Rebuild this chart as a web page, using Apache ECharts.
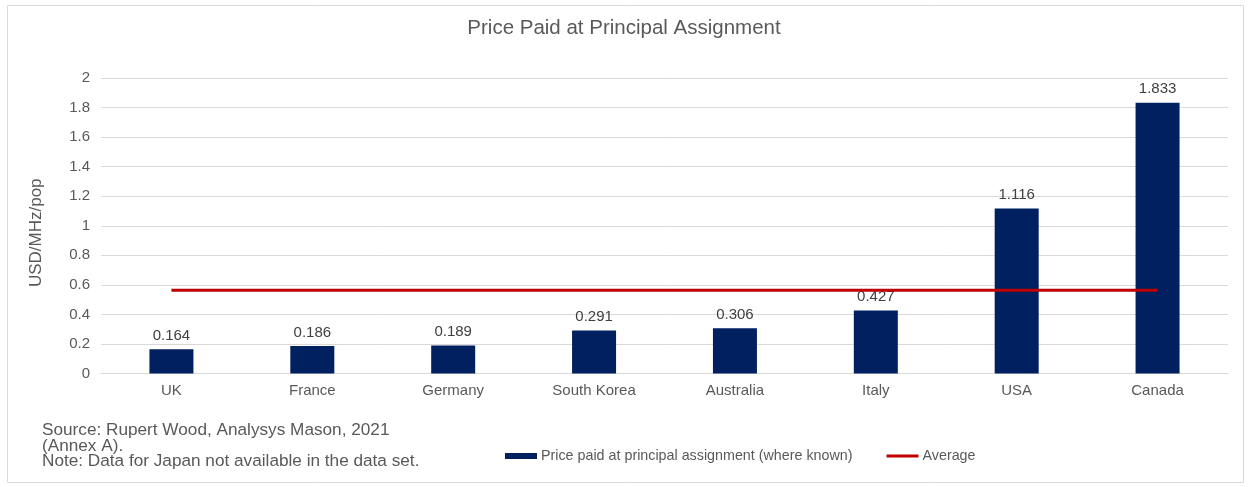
<!DOCTYPE html>
<html>
<head>
<meta charset="utf-8">
<script src="https://cdn.jsdelivr.net/npm/echarts@6/dist/echarts.min.js"></script>
<style>
  html, body { margin: 0; padding: 0; background: #fff; }
  #chart { width: 1248px; height: 487px; }
</style>
</head>
<body>
<div id="chart"></div>
<script>
// chart data
const countries = ['UK', 'France', 'Germany', 'South Korea', 'Australia', 'Italy', 'USA', 'Canada'];
const pricePaid = [0.164, 0.186, 0.189, 0.291, 0.306, 0.427, 1.116, 1.833];
const averageValues = [0.564, 0.564, 0.564, 0.564, 0.564, 0.564, 0.564, 0.564];
const yTicks = [0, 0.2, 0.4, 0.6, 0.8, 1, 1.2, 1.4, 1.6, 1.8, 2];

const font = '"Liberation Sans", Arial, Helvetica, sans-serif';
const grey = '#595959';

const chart = echarts.init(document.getElementById('chart'));
chart.setOption({
    animation: false,
    textStyle: { fontFamily: font },
    title: {
        text: 'Price Paid at Principal Assignment',
        left: 'center',
        top: 18,
        padding: 0,
        textStyle: { fontSize: 20.5, fontWeight: 'normal', color: grey, fontFamily: font }
    },
    grid: { left: 101, right: 20, top: 78, bottom: 113.5 },
    legend: {
        left: 505,
        top: 449,
        padding: 0,
        itemWidth: 32,
        itemHeight: 6,
        itemGap: 34,
        textStyle: { fontSize: 14.3, color: grey, fontFamily: font, padding: [0, 0, 0, -1] },
        data: [
            { name: 'Price paid at principal assignment (where known)', icon: 'rect' },
            { name: 'Average', icon: 'path://M0,0 L32,0 L32,3 L0,3 Z' }
        ]
    },
    xAxis: {
        type: 'category',
        data: countries,
        axisLine: { lineStyle: { color: '#d9d9d9' } },
        axisTick: { show: false },
        axisLabel: { fontSize: 15, color: grey, margin: 10, fontFamily: font }
    },
    yAxis: {
        type: 'value',
        min: yTicks[0],
        max: yTicks[yTicks.length - 1],
        interval: 0.2,
        name: 'USD/MHz/pop',
        nameLocation: 'middle',
        nameRotate: 90,
        nameGap: 56,
        nameTextStyle: { fontSize: 17, color: grey, fontFamily: font, padding: [0, 14, 0, 0] },
        splitLine: { lineStyle: { color: '#d9d9d9' } },
        axisLabel: { fontSize: 15, color: grey, margin: 11, fontFamily: font }
    },
    series: [
        {
            name: 'Price paid at principal assignment (where known)',
            type: 'bar',
            data: pricePaid,
            barWidth: 44,
            itemStyle: { color: '#002060' },
            label: {
                show: true,
                position: 'top',
                distance: 6,
                fontSize: 15,
                color: '#404040',
                fontFamily: font
            }
        },
        {
            name: 'Average',
            type: 'line',
            data: averageValues,
            symbol: 'none',
            lineStyle: { color: '#C00000', width: 3 },
            itemStyle: { color: '#C00000' }
        }
    ],
    graphic: [
        {
            type: 'rect',
            shape: { x: 7.5, y: 5.5, width: 1236, height: 477 },
            style: { fill: 'none', stroke: '#d9d9d9', lineWidth: 1 }
        },
        {
            type: 'text',
            left: 42,
            top: 422,
            style: {
                text: 'Source: Rupert Wood, Analysys Mason, 2021\n(Annex A).\nNote: Data for Japan not available in the data set.',
                font: '17.2px ' + font,
                fill: grey,
                lineHeight: 15.5
            }
        }
    ]
});
</script>
</body>
</html>
